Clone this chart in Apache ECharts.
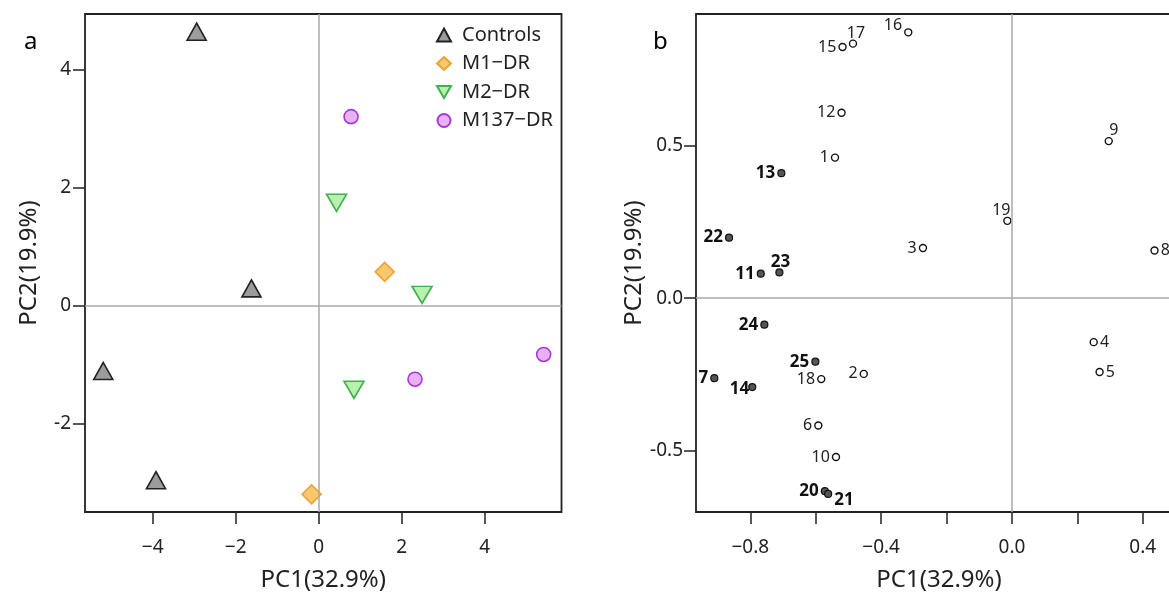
<!DOCTYPE html>
<html><head><meta charset="utf-8">
<script src="https://cdn.jsdelivr.net/npm/echarts@6/dist/echarts.min.js"></script>
<style>html,body{margin:0;padding:0;background:#fff}#c{width:1169px;height:597px}</style>
</head><body><div id="c"></div>
<script>
// ---- Panel a: sample scores ----
const groupNames = ['Controls', 'M1\u2212DR', 'M2\u2212DR', 'M137\u2212DR'];
const controlsX = [-2.94, -1.62, -5.19, -3.92];
const controlsY = [4.65, 0.30, -1.10, -2.95];
const m1X = [1.59, -0.17];
const m1Y = [0.58, -3.19];
const m2X = [0.43, 2.49, 0.85];
const m2Y = [1.75, 0.19, -1.42];
const m137X = [0.78, 2.32, 5.42];
const m137Y = [3.21, -1.24, -0.82];
const aXTicks = [-4, -2, 0, 2, 4];
const aYTicks = [-2, 0, 2, 4];

// ---- Panel b: variable loadings ----
const loadIds = [1,2,3,4,5,6,7,8,9,10,11,12,13,14,15,16,17,18,19,20,21,22,23,24,25];
const loadX = [-0.541,-0.453,-0.272,0.250,0.268,-0.592,-0.910,0.436,0.296,-0.538,-0.768,-0.521,-0.705,-0.794,-0.518,-0.317,-0.486,-0.583,-0.014,-0.572,-0.562,-0.865,-0.711,-0.757,-0.601];
const loadY = [0.460,-0.248,0.164,-0.144,-0.242,-0.417,-0.262,0.156,0.514,-0.520,0.080,0.607,0.409,-0.291,0.822,0.870,0.833,-0.265,0.253,-0.632,-0.641,0.198,0.084,-0.087,-0.208];
const boldIds = [7,11,13,14,20,21,22,23,24,25];
const bXTicks = [-0.8,-0.6,-0.4,-0.2,0.0,0.2,0.4];
const bXLabels = [-0.8,-0.4,0.0,0.4];
const bYTicks = [-0.5,0.0,0.5];

// label placement (style only)
const labelPos = {4:'right',5:'right',8:'right',9:'top',17:'top',19:'top',23:'top',21:'right'};
const labelShift = {9:[5,4],16:[0,-7],17:[3,4],19:[-6,4],23:[1,4],21:[0,6],14:[3,2]};

const FONT = 'Noto Sans';
const minus = s => s.replace('-', '\u2212');
const zip = (xs, ys) => xs.map((x, i) => [x, ys[i]]);

const zeroLines = {
  silent: true, symbol: 'none', animation: false,
  label: {show: false},
  lineStyle: {color: '#a8a8a8', width: 1.5, type: 'solid'},
  emphasis: {disabled: true},
  data: [{xAxis: 0}, {yAxis: 0}]
};

function xAxisCfg(gi, min, max, ticks, labels, fmt) {
  return {
    gridIndex: gi, type: 'value', min: min, max: max,
    axisLine: {show: false, onZero: false},
    axisTick: {show: true, inside: false, length: 12, lineStyle: {color: '#222', width: 1.5}, customValues: ticks},
    axisLabel: {customValues: labels, formatter: fmt, fontSize: 19, color: '#222', margin: 26, fontFamily: FONT},
    splitLine: {show: false},
    name: 'PC1(32.9%)', nameLocation: 'middle', nameGap: 56,
    nameTextStyle: {fontSize: 24, color: '#222', fontFamily: FONT}
  };
}
function yAxisCfg(gi, min, max, ticks, fmt, margin) {
  return {
    gridIndex: gi, type: 'value', min: min, max: max,
    axisLine: {show: false, onZero: false},
    axisTick: {show: true, inside: false, length: 12, lineStyle: {color: '#222', width: 1.5}, customValues: ticks},
    axisLabel: {customValues: ticks, formatter: fmt, fontSize: 19, color: '#222', margin: margin, fontFamily: FONT},
    splitLine: {show: false},
    name: 'PC2(19.9%)', nameLocation: 'middle', nameGap: 44,
    nameTextStyle: {fontSize: 24, color: '#222', fontFamily: FONT}
  };
}

const bData = loadIds.map((id, i) => {
  const bold = boldIds.includes(id);
  return {
    value: [loadX[i], loadY[i]],
    itemStyle: bold ? {color: '#555', borderColor: '#111', borderWidth: 1.2, opacity: 1}
                    : {color: '#fff', borderColor: '#111', borderWidth: 1.4, opacity: 1},
    label: {
      show: true, formatter: String(id), distance: 2, position: labelPos[id] || 'left',
      fontSize: bold ? 17 : 16, fontWeight: bold ? 'bold' : 'normal',
      color: bold ? '#111' : '#222', fontFamily: FONT, opacity: 1
    }
  };
});

const downTri = 'path://M0,0 L20,0 L10,17 Z';

const option = {
  animation: false,
  backgroundColor: '#fff',
  textStyle: {fontFamily: FONT},
  title: [
    {text: 'a', left: 24, top: 30, padding: 0, textStyle: {fontSize: 24, fontWeight: 'normal', color: '#000', fontFamily: FONT}},
    {text: 'b', left: 653, top: 30, padding: 0, textStyle: {fontSize: 24, fontWeight: 'normal', color: '#000', fontFamily: FONT}}
  ],
  legend: {
    data: groupNames, orient: 'vertical', left: 431, top: 20,
    itemWidth: 14, itemHeight: 13, itemGap: 8.5,
    textStyle: {fontSize: 20, color: '#222', fontFamily: FONT, padding: [0,0,0,6]},
    selectedMode: false
  },
  grid: [
    {left: 85, width: 476.5, top: 14, bottom: 85, show: true, borderColor: '#222', borderWidth: 1.8, backgroundColor: 'transparent', outerBoundsMode: 'none', containLabel: false},
    {left: 696, width: 486, top: 14, bottom: 85, show: true, borderColor: '#222', borderWidth: 1.8, backgroundColor: 'transparent', outerBoundsMode: 'none', containLabel: false}
  ],
  xAxis: [
    xAxisCfg(0, -5.63, 5.85, aXTicks, aXTicks, v => minus(String(v))),
    xAxisCfg(1, -0.966, 0.52, bXTicks, bXLabels, v => minus(v.toFixed(1)))
  ],
  yAxis: [
    yAxisCfg(0, -3.49, 4.95, aYTicks, v => String(v), 14),
    yAxisCfg(1, -0.70, 0.93, bYTicks, v => v.toFixed(1), 13)
  ],
  series: [
    {type: 'line', xAxisIndex: 0, yAxisIndex: 0, data: [], markLine: zeroLines, silent: true},
    {type: 'line', xAxisIndex: 1, yAxisIndex: 1, data: [], markLine: zeroLines, silent: true},
    {name: groupNames[0], type: 'scatter', xAxisIndex: 0, yAxisIndex: 0, data: zip(controlsX, controlsY),
     symbol: 'triangle', symbolSize: [19, 17], itemStyle: {color: '#9c9c9c', borderColor: '#222', borderWidth: 1.6, opacity: 1}},
    {name: groupNames[1], type: 'scatter', xAxisIndex: 0, yAxisIndex: 0, data: zip(m1X, m1Y),
     symbol: 'diamond', symbolSize: [19, 19], itemStyle: {color: '#f9c86c', borderColor: '#eba237', borderWidth: 1.6, opacity: 1}},
    {name: groupNames[2], type: 'scatter', xAxisIndex: 0, yAxisIndex: 0, data: zip(m2X, m2Y),
     symbol: downTri, symbolSize: [20, 17], itemStyle: {color: '#b8f0b0', borderColor: '#3fb04b', borderWidth: 1.6, opacity: 1}},
    {name: groupNames[3], type: 'scatter', xAxisIndex: 0, yAxisIndex: 0, data: zip(m137X, m137Y),
     symbol: 'circle', symbolSize: 14, itemStyle: {color: '#eab0f6', borderColor: '#a53ad5', borderWidth: 1.6, opacity: 1}},
    {type: 'scatter', xAxisIndex: 1, yAxisIndex: 1, data: bData, symbol: 'circle', symbolSize: 7,
     emphasis: {disabled: true},
     labelLayout: function (p) {
       const s = labelShift[loadIds[p.dataIndex]];
       return s ? {dx: s[0], dy: s[1], hideOverlap: false} : {hideOverlap: false};
     }}
  ]
};

const chart = echarts.init(document.getElementById('c'), null, {renderer: 'canvas'});
chart.setOption(option);
</script>
</body></html>
